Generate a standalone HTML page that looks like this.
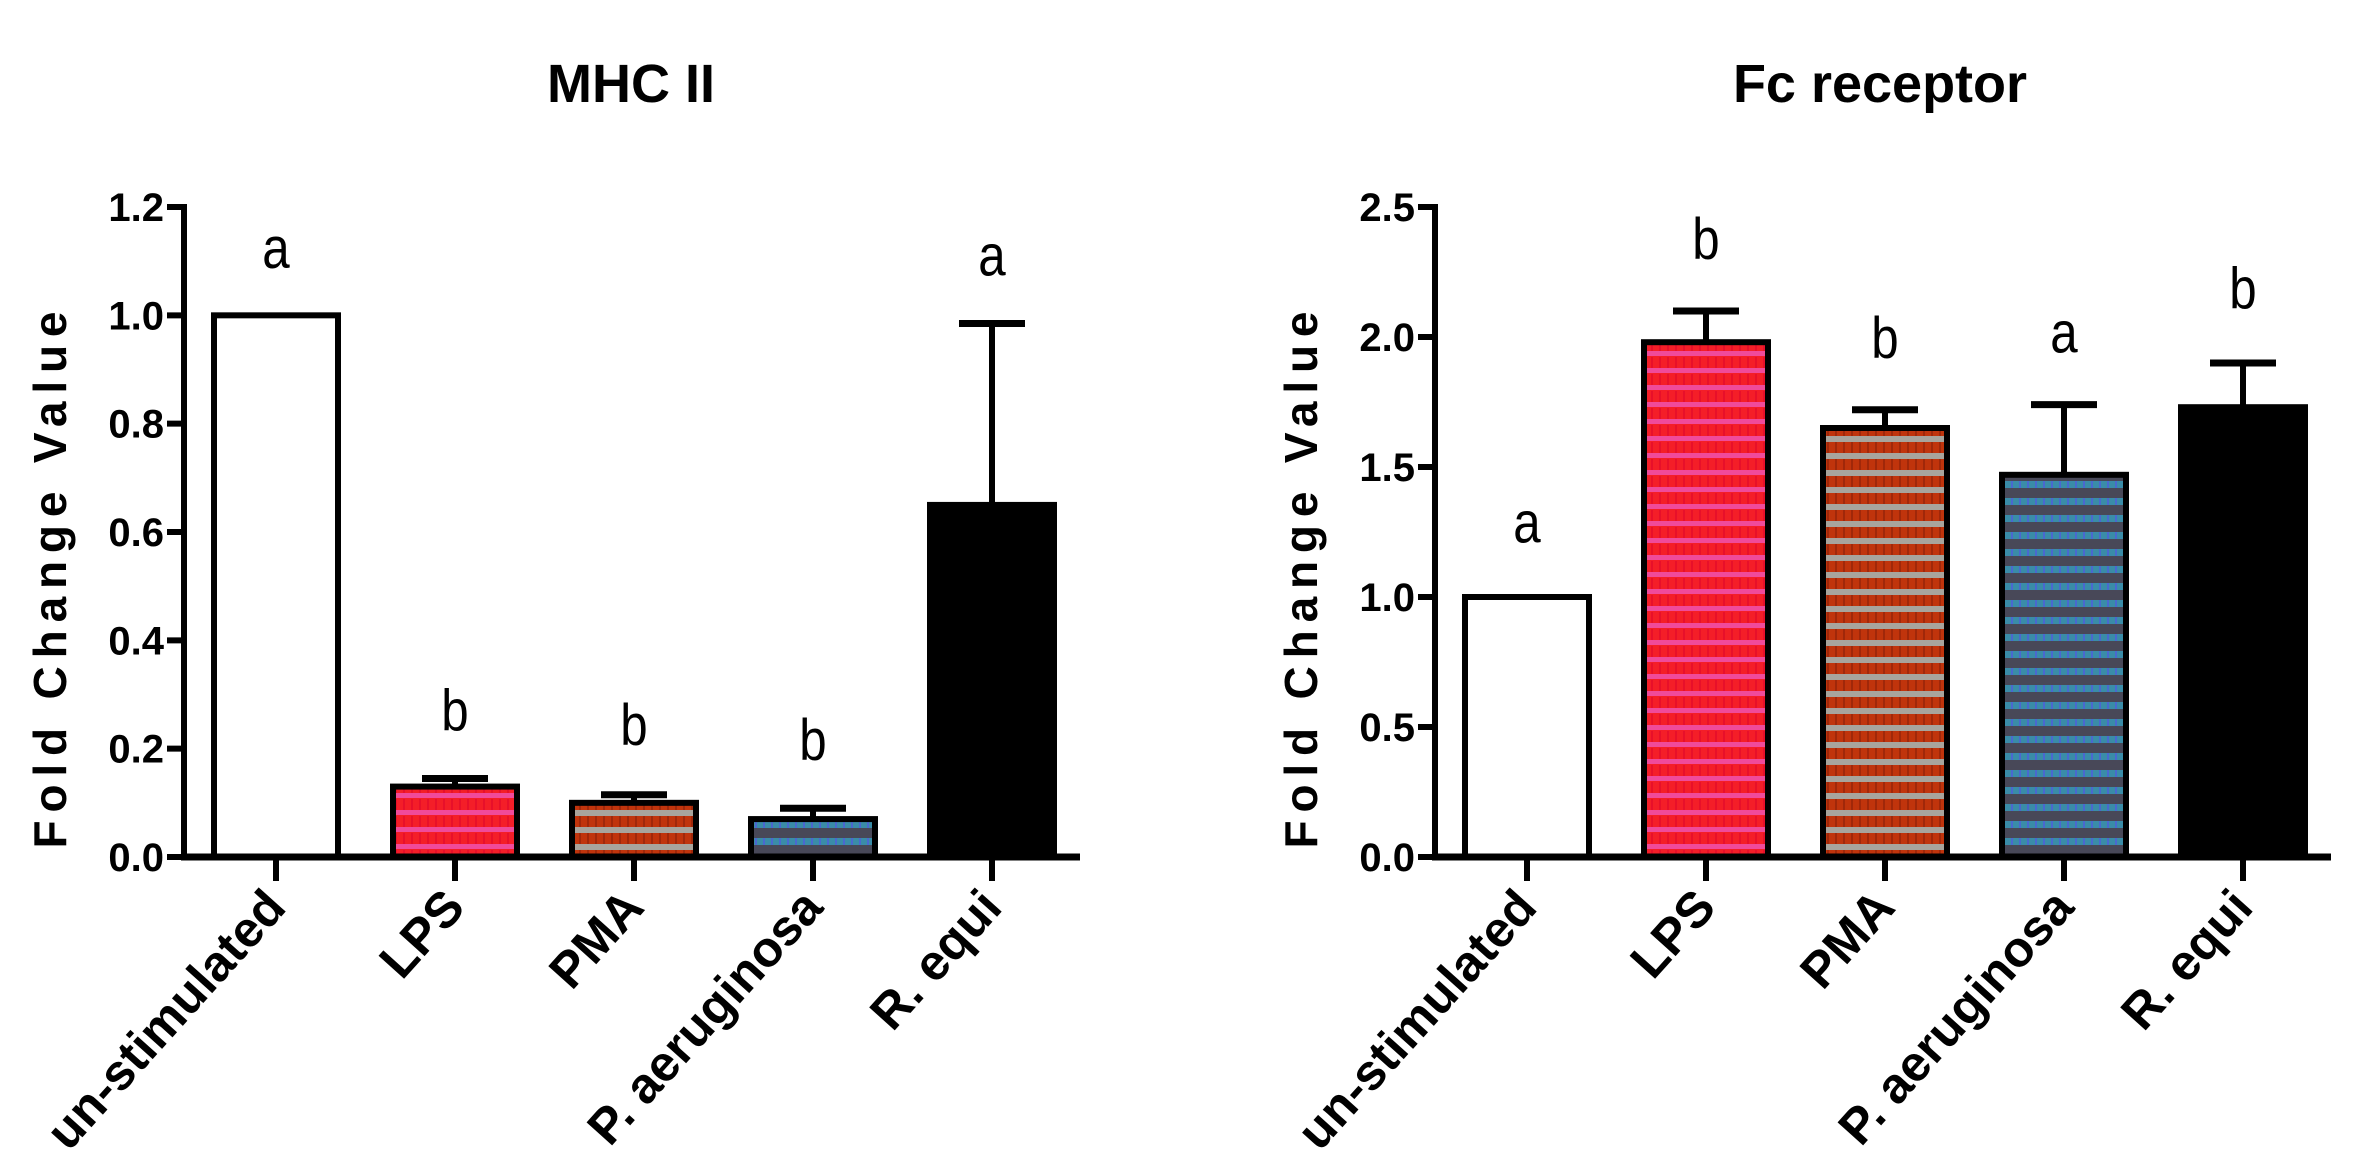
<!DOCTYPE html>
<html><head><meta charset="utf-8"><style>
html,body{margin:0;padding:0;background:#fff}
svg{display:block}
text{font-family:"Liberation Sans",Arial,sans-serif;fill:#000}
</style></head><body>
<svg id="fig" width="2372" height="1158" viewBox="0 0 2372 1158">
<defs>
<pattern id="pLPS" width="8" height="17" patternUnits="userSpaceOnUse"><rect width="8" height="17" fill="#f41e28"/><rect y="11" width="8" height="5" fill="#f04a9a"/><rect x="3" width="2" height="11" fill="#e8102a"/></pattern>
<pattern id="pPMA" width="8" height="17" patternUnits="userSpaceOnUse"><rect width="8" height="17" fill="#a8a49c"/><rect width="8" height="11" fill="#c0340c"/><rect x="3" width="2" height="11" fill="#a0280a"/></pattern>
<pattern id="pPA" width="8" height="17" patternUnits="userSpaceOnUse"><rect width="8" height="17" fill="#484858"/><rect y="5" width="8" height="7" fill="#3a8ca8"/><rect x="3" y="5" width="2" height="7" fill="#4a68d0"/></pattern>
</defs>
</svg>
<script>
const categories = ["un-stimulated","LPS","PMA","P. aeruginosa","R. equi"];
const mhcValues = [1.0, 0.13, 0.10, 0.07, 0.65];
const mhcErrTop = [1.0, 0.145, 0.115, 0.09, 0.985];
const mhcLetters = ["a","b","b","b","a"];
const mhcLetterPos = [1.087, 0.234, 0.207, 0.179, 1.074];
const mhcTicks = ["0.0","0.2","0.4","0.6","0.8","1.0","1.2"];
const fcValues = [1.0, 1.98, 1.65, 1.47, 1.73];
const fcErrTop = [1.0, 2.10, 1.72, 1.74, 1.90];
const fcLetters = ["a","b","b","a","b"];
const fcLetterPos = [1.21, 2.30, 1.92, 1.94, 2.11];
const fcTicks = ["0.0","0.5","1.0","1.5","2.0","2.5"];

const NS="http://www.w3.org/2000/svg";
const svg=document.getElementById('fig');
const fills=["#ffffff","url(#pLPS)","url(#pPMA)","url(#pPA)","#000000"];
function mk(tag,attrs,parent){const e=document.createElementNS(NS,tag);for(const k in attrs)e.setAttribute(k,attrs[k]);(parent||svg).appendChild(e);return e;}

function chart(cfg){
  const g=mk('g',{});
  
  
  const y0=857,yTop=207,ax=cfg.ax;
  const ymax=cfg.ymax;
  const y=v=>y0-(v/ymax)*(y0-yTop);
  const x=i=>ax+92+179*i;
  const bw=124;
  const t=mk('text',{x:cfg.tx,y:102,'text-anchor':'middle','font-size':54,'font-weight':'bold'},g);
  t.textContent=cfg.title;
  
  
  const yl=mk('text',{x:0,y:0,'text-anchor':'middle','font-size':46,'font-weight':'bold',textLength:537,lengthAdjust:'spacing',transform:`translate(${ax-118},580) rotate(-90)`},g);
  yl.textContent="Fold Change Value";
  
  
  cfg.ticks.forEach((lab)=>{
    const v=parseFloat(lab);const yy=y(v);
    const tk=mk('line',{x1:ax-17,x2:ax,y1:yy,y2:yy,stroke:'#000','stroke-width':6},g);
    
    
    const tl=mk('text',{x:ax-20,y:yy+14,'text-anchor':'end','font-size':40,'font-weight':'bold'},g);
    tl.textContent=lab;
    
    
  });
  cfg.values.forEach((v,i)=>{
    const cx=x(i);
    if(cfg.err[i]>v){
      const el=mk('line',{x1:cx,x2:cx,y1:y(v),y2:y(cfg.err[i]),stroke:'#000','stroke-width':6},g);
      
      
      const cp=mk('line',{x1:cx-33,x2:cx+33,y1:y(cfg.err[i]),y2:y(cfg.err[i]),stroke:'#000','stroke-width':7},g);
      
      
    }
    const r=mk('rect',{x:cx-bw/2,y:y(v),width:bw,height:y0-y(v),fill:fills[i],stroke:'#000','stroke-width':6},g);
    
    
    const lt=mk('text',{x:0,y:0,'text-anchor':'middle','font-size':58,transform:`translate(${cx},${y(cfg.lpos[i])}) scale(0.85,1)`},g);
    lt.textContent=cfg.letters[i];
    
    
    const xt=mk('line',{x1:cx,x2:cx,y1:y0,y2:y0+24,stroke:'#000','stroke-width':6},g);
    
    
    const xl=mk('text',{x:0,y:0,'text-anchor':'end','font-size':50,'font-weight':'bold',transform:`translate(${cx+12},${y0+52}) rotate(-48)`},g);
    xl.textContent=categories[i];
    
    
  });
  const ya=mk('line',{x1:ax,x2:ax,y1:yTop-3,y2:y0+3,stroke:'#000','stroke-width':6},g);
  
  
  const xa=mk('line',{x1:ax-3,x2:x(4)+88,y1:y0,y2:y0,stroke:'#000','stroke-width':7},g);
  
  
}
chart({name:'mhc-ii-chart',title:'MHC II',tx:631,ax:184,ymax:1.2,ticks:mhcTicks,values:mhcValues,err:mhcErrTop,letters:mhcLetters,lpos:mhcLetterPos});
chart({name:'fc-receptor-chart',title:'Fc receptor',tx:1880,ax:1435,ymax:2.5,ticks:fcTicks,values:fcValues,err:fcErrTop,letters:fcLetters,lpos:fcLetterPos});
</script>
</body></html>
